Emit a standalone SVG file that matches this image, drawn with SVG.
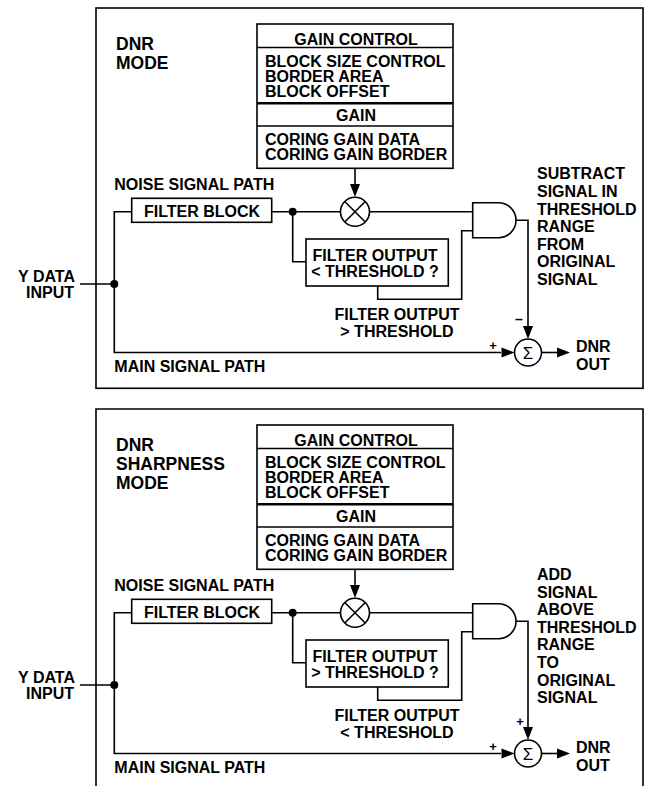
<svg xmlns="http://www.w3.org/2000/svg" width="652" height="786" viewBox="0 0 652 786">
<style>
text{font-family:"Liberation Sans",Arial,Helvetica,sans-serif;font-weight:bold;font-size:16px;fill:#000}
.h{font-size:17.5px}
.m{text-anchor:middle}
.e{text-anchor:end}
.sg{font-weight:normal;font-size:17px;text-anchor:middle}
.ln{fill:none;stroke:#000;stroke-width:1.6}
.bx{fill:#fff;stroke:#000;stroke-width:1.6}
.dv{stroke:#000;stroke-width:1.5}
.dvt{stroke:#000;stroke-width:2.6}
.dot{fill:#000}
.ah{fill:#000}
.fr{fill:none;stroke:#000;stroke-width:1.6}
</style>
<defs>
<g id="tri-down"><polygon points="-5,-13 5,-13 0,0"/></g>
<g id="tri-right"><polygon points="-13,-5 -13,5 0,0"/></g>
</defs>

<!-- ===== TOP PANEL: DNR MODE ===== -->
<g id="panel-dnr-mode">
  <rect id="frame-top" class="fr" x="96" y="8" width="547" height="380.3"/>
  <g id="title-top">
    <text class="h" x="116" y="49.5">DNR</text>
    <text class="h" x="116" y="68.5">MODE</text>
  </g>

  <g id="connectors-top">
    <path class="ln" d="M80,284 H114.3"/>
    <path class="ln" d="M131.7,211.7 H114.3 V352.5 H501"/>
    <path class="ln" d="M271.7,211.7 H340.5"/>
    <path class="ln" d="M369.5,211.7 H472.7"/>
    <path class="ln" d="M292.7,211.7 V261.7 H306"/>
    <path class="ln" d="M377.7,286 V299.3 H461.7 V230.7 H472.7"/>
    <path class="ln" d="M355,168.3 V186"/>
    <use href="#tri-down" x="355" y="197" class="ah"/>
    <path class="ln" d="M516,220.2 H528 V327"/>
    <use href="#tri-down" x="528" y="339" class="ah"/>
    <use href="#tri-right" x="514.5" y="352.5" class="ah"/>
    <path class="ln" d="M541.5,352.5 H559"/>
    <use href="#tri-right" x="570" y="352.5" class="ah"/>
    <circle class="dot" cx="114.3" cy="284" r="4"/>
    <circle class="dot" cx="292.7" cy="211.7" r="4"/>
    <text x="493" y="350" class="m" style="font-size:13px">+</text>
    <text x="519" y="324" class="m" style="font-size:14px">–</text>
  </g>

  <g id="gain-control-top">
    <rect class="bx" x="257" y="24" width="196" height="144.3"/>
    <line class="dv" x1="257" y1="47.5" x2="453" y2="47.5"/>
    <line class="dvt" x1="257" y1="103.3" x2="453" y2="103.3"/>
    <line class="dv" x1="257" y1="126" x2="453" y2="126"/>
    <text class="m" x="356" y="44.5">GAIN CONTROL</text>
    <text x="265" y="66.5">BLOCK SIZE CONTROL</text>
    <text x="265" y="81.5">BORDER AREA</text>
    <text x="265" y="96.5">BLOCK OFFSET</text>
    <text class="m" x="356" y="120.5">GAIN</text>
    <text x="265" y="145">CORING GAIN DATA</text>
    <text x="265" y="160">CORING GAIN BORDER</text>
  </g>

  <g id="y-data-input-top">
    <text class="e" x="75" y="281.7">Y DATA</text>
    <text class="e" x="74" y="298.3">INPUT</text>
  </g>
  <g id="noise-path-label-top"><text x="114.3" y="190">NOISE SIGNAL PATH</text></g>
  <g id="main-path-label-top"><text x="114.3" y="371.7">MAIN SIGNAL PATH</text></g>

  <g id="filter-block-top">
    <rect class="bx" x="131.7" y="198.3" width="140" height="24"/>
    <text class="m" x="202" y="217.3">FILTER BLOCK</text>
  </g>

  <g id="multiplier-top">
    <circle class="bx" cx="355" cy="211.7" r="14.5"/>
    <path class="ln" d="M344.75,201.45 L365.25,221.95 M365.25,201.45 L344.75,221.95"/>
  </g>

  <g id="threshold-box-top">
    <rect class="bx" x="306" y="239" width="142.3" height="47"/>
    <text class="m" x="375" y="260.7">FILTER OUTPUT</text>
    <text class="m" x="375" y="277.3">&lt; THRESHOLD ?</text>
  </g>

  <g id="threshold-label-top">
    <text class="m" x="397" y="320">FILTER OUTPUT</text>
    <text class="m" x="397" y="337.3">&gt; THRESHOLD</text>
  </g>

  <g id="and-gate-top">
    <path class="bx" d="M472.7,202.7 H498.5 A17.5,17.5 0 0 1 498.5,237.7 H472.7 Z"/>
  </g>

  <g id="note-top">
    <text x="537" y="179.3">SUBTRACT</text>
    <text x="537" y="196.9">SIGNAL IN</text>
    <text x="537" y="214.5">THRESHOLD</text>
    <text x="537" y="232.1">RANGE</text>
    <text x="537" y="249.7">FROM</text>
    <text x="537" y="267.3">ORIGINAL</text>
    <text x="537" y="284.9">SIGNAL</text>
  </g>

  <g id="sum-top">
    <circle class="bx" cx="528" cy="352.5" r="13.5"/>
    <text class="sg" x="528" y="358.5">Σ</text>
  </g>

  <g id="dnr-out-top">
    <text x="576" y="351.5">DNR</text>
    <text x="576" y="369.5">OUT</text>
  </g>
</g>

<!-- ===== BOTTOM PANEL: DNR SHARPNESS MODE ===== -->
<g id="panel-dnr-sharpness-mode" transform="translate(0,401)">
  <path id="frame-bottom" class="fr" d="M96,390 V8 H643 V390"/>
  <g id="title-bottom">
    <text class="h" x="116" y="49.5">DNR</text>
    <text class="h" x="116" y="68.5">SHARPNESS</text>
    <text class="h" x="116" y="87.5">MODE</text>
  </g>

  <g id="connectors-bottom">
    <path class="ln" d="M80,284 H114.3"/>
    <path class="ln" d="M131.7,211.7 H114.3 V352.5 H501"/>
    <path class="ln" d="M271.7,211.7 H340.5"/>
    <path class="ln" d="M369.5,211.7 H472.7"/>
    <path class="ln" d="M292.7,211.7 V261.7 H306"/>
    <path class="ln" d="M377.7,286 V299.3 H461.7 V230.7 H472.7"/>
    <path class="ln" d="M355,168.3 V186"/>
    <use href="#tri-down" x="355" y="197" class="ah"/>
    <path class="ln" d="M516,220.2 H528 V327"/>
    <use href="#tri-down" x="528" y="339" class="ah"/>
    <use href="#tri-right" x="514.5" y="352.5" class="ah"/>
    <path class="ln" d="M541.5,352.5 H559"/>
    <use href="#tri-right" x="570" y="352.5" class="ah"/>
    <circle class="dot" cx="114.3" cy="284" r="4"/>
    <circle class="dot" cx="292.7" cy="211.7" r="4"/>
    <text x="493" y="350" class="m" style="font-size:13px">+</text>
    <text x="520" y="325" class="m" style="font-size:13px">+</text>
  </g>

  <g id="gain-control-bottom">
    <rect class="bx" x="257" y="24" width="196" height="144.3"/>
    <line class="dv" x1="257" y1="47.5" x2="453" y2="47.5"/>
    <line class="dvt" x1="257" y1="103.3" x2="453" y2="103.3"/>
    <line class="dv" x1="257" y1="126" x2="453" y2="126"/>
    <text class="m" x="356" y="44.5">GAIN CONTROL</text>
    <text x="265" y="66.5">BLOCK SIZE CONTROL</text>
    <text x="265" y="81.5">BORDER AREA</text>
    <text x="265" y="96.5">BLOCK OFFSET</text>
    <text class="m" x="356" y="120.5">GAIN</text>
    <text x="265" y="145">CORING GAIN DATA</text>
    <text x="265" y="160">CORING GAIN BORDER</text>
  </g>

  <g id="y-data-input-bottom">
    <text class="e" x="75" y="281.7">Y DATA</text>
    <text class="e" x="74" y="298.3">INPUT</text>
  </g>
  <g id="noise-path-label-bottom"><text x="114.3" y="190">NOISE SIGNAL PATH</text></g>
  <g id="main-path-label-bottom"><text x="114.3" y="371.7">MAIN SIGNAL PATH</text></g>

  <g id="filter-block-bottom">
    <rect class="bx" x="131.7" y="198.3" width="140" height="24"/>
    <text class="m" x="202" y="217.3">FILTER BLOCK</text>
  </g>

  <g id="multiplier-bottom">
    <circle class="bx" cx="355" cy="211.7" r="14.5"/>
    <path class="ln" d="M344.75,201.45 L365.25,221.95 M365.25,201.45 L344.75,221.95"/>
  </g>

  <g id="threshold-box-bottom">
    <rect class="bx" x="306" y="239" width="142.3" height="47"/>
    <text class="m" x="375" y="260.7">FILTER OUTPUT</text>
    <text class="m" x="375" y="277.3">&gt; THRESHOLD ?</text>
  </g>

  <g id="threshold-label-bottom">
    <text class="m" x="397" y="320">FILTER OUTPUT</text>
    <text class="m" x="397" y="337.3">&lt; THRESHOLD</text>
  </g>

  <g id="and-gate-bottom">
    <path class="bx" d="M472.7,202.7 H498.5 A17.5,17.5 0 0 1 498.5,237.7 H472.7 Z"/>
  </g>

  <g id="note-bottom">
    <text x="537" y="179">ADD</text>
    <text x="537" y="196.6">SIGNAL</text>
    <text x="537" y="214.2">ABOVE</text>
    <text x="537" y="231.8">THRESHOLD</text>
    <text x="537" y="249.4">RANGE</text>
    <text x="537" y="267">TO</text>
    <text x="537" y="284.6">ORIGINAL</text>
    <text x="537" y="302.2">SIGNAL</text>
  </g>

  <g id="sum-bottom">
    <circle class="bx" cx="528" cy="352.5" r="13.5"/>
    <text class="sg" x="528" y="358.5">Σ</text>
  </g>

  <g id="dnr-out-bottom">
    <text x="576" y="351.5">DNR</text>
    <text x="576" y="369.5">OUT</text>
  </g>
</g>
</svg>
